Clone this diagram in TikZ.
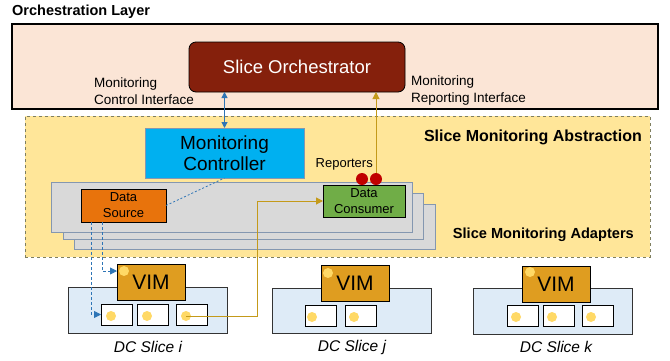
\documentclass[tikz,border=0pt]{standalone}
\usepackage{fontspec}
\setmainfont{Liberation Sans}
\usetikzlibrary{arrows.meta}
\definecolor{orchfill}{HTML}{FBE5D6}
\definecolor{orchred}{HTML}{85200C}
\definecolor{absfill}{HTML}{FFE699}
\definecolor{absline}{HTML}{7F7F5F}
\definecolor{ctrlblue}{HTML}{00B0F0}
\definecolor{adaptfill}{HTML}{D9D9D9}
\definecolor{adaptline}{HTML}{8497B0}
\definecolor{srcorange}{HTML}{E8730C}
\definecolor{consgreen}{HTML}{70AD47}
\definecolor{vimgold}{HTML}{DF9D20}
\definecolor{slicefill}{HTML}{DEEBF7}
\definecolor{vmdot}{HTML}{FFD966}
\definecolor{repred}{HTML}{C00000}
\definecolor{arrblue}{HTML}{2E75B6}
\definecolor{arrgold}{HTML}{C49A1A}
\begin{document}
\begin{tikzpicture}[x=1pt,y=-1pt]
            \tikzstyle{box}=[draw,anchor=north west,inner sep=0,outer sep=0]
            \tikzstyle{adapter}=[box,fill=adaptfill,draw=adaptline,line width=0.9pt]
            \tikzstyle{slice}=[box,fill=slicefill,line width=1pt,draw=black!80]
            \tikzstyle{vim}=[box,fill=vimgold,line width=1pt,minimum width=68,minimum height=36,font=\fontsize{21}{21}\selectfont]
            \tikzstyle{vm}=[box,fill=white,line width=1pt,minimum width=31,minimum height=21]
            \tikzstyle{dot}=[circle,fill=vmdot,inner sep=0,minimum size=10]
            \tikzstyle{reporter}=[circle,fill=repred,inner sep=0,minimum size=12]
            \tikzstyle{small}=[font=\fontsize{13}{16}\selectfont,align=center]
            \tikzstyle{iface}=[font=\fontsize{13.5}{17}\selectfont,align=left,anchor=west,inner sep=0]
            \tikzstyle{title}=[font=\bfseries\fontsize{14.5}{16}\selectfont,inner sep=0]
            \tikzstyle{slicelabel}=[font=\itshape\fontsize{15.5}{16}\selectfont]
            \tikzstyle{blue arrow}=[arrblue,line width=1pt]
            \tikzstyle{gold arrow}=[arrgold,line width=1pt,-{Triangle[length=7pt,width=7pt]}]

            \useasboundingbox (0,0) rectangle (670,360);

            % orchestration layer
            \node(title)[title,anchor=west] at (12,12) {Orchestration Layer};
            \node(layer)[box,fill=orchfill,line width=1.2pt,minimum width=646,minimum height=85] at (12,24) {};
            \node(orch)[box,fill=orchred,rounded corners=7pt,line width=0.8pt,minimum width=216,minimum height=50,
                text=white,font=\fontsize{18.5}{18}\selectfont] at (189,42) {Slice Orchestrator};
            \node(ctrlif)[iface] at (94,91) {Monitoring\\Control Interface};
            \node(repif)[iface] at (411,91) {Monitoring\\Reporting Interface};

            % slice monitoring abstraction
            \node(abs)[box,fill=absfill,draw=absline,dashed,line width=0.6pt,minimum width=625,minimum height=141] at (25,116) {};
            \node(abstitle)[title,font=\bfseries\fontsize{16}{16}\selectfont,anchor=east] at (642,137) {Slice Monitoring Abstraction};
            \node(ctrl)[box,fill=ctrlblue,draw=adaptline,line width=0.8pt,minimum width=159,minimum height=50,
                align=center,font=\fontsize{19}{21}\selectfont] at (145,128) {Monitoring\\Controller};

            % adapters
            \node(ad3)[adapter,minimum width=361,minimum height=45] at (74,204) {};
            \node(ad2)[adapter,minimum width=360,minimum height=46] at (63,193) {};
            \node(ad1)[adapter,minimum width=361,minimum height=50] at (51,182) {};
            \node(adtitle)[title,font=\bfseries\fontsize{14.6}{16}\selectfont,anchor=east] at (634,235) {Slice Monitoring Adapters};
            \node(src)[box,small,fill=srcorange,line width=0.9pt,minimum width=85,minimum height=33] at (81,189) {Data\\Source};
            \node(cons)[box,small,fill=consgreen,line width=0.9pt,minimum width=82,minimum height=32] at (323,185) {Data\\Consumer};
            \node(r1)[reporter] at (362,179) {};
            \node(r2)[reporter] at (376,179) {};
            \node(rep)[small,anchor=east,inner sep=0] at (373,164) {Reporters};

            % DC slice i
            \node(si)[slice,minimum width=159,minimum height=46] at (68,287) {};
            \node(vimi)[vim] at (117,264) {VIM};
            \node[dot] at (124,271) {};
            \node(vmi1)[vm] at (101,304) {};
            \node(vmi2)[vm] at (137,304) {};
            \node(vmi3)[vm] at (176,304) {};
            \node(di1)[dot] at (111,316) {};
            \node(di2)[dot] at (147,316) {};
            \node(di3)[dot] at (186,316) {};
            \node(li)[slicelabel] at (148,347) {DC Slice i};

            % DC slice j
            \node(sj)[slice,minimum width=159,minimum height=45] at (272,288) {};
            \node(vimj)[vim] at (321,265) {VIM};
            \node[dot] at (328,273) {};
            \node(vmj1)[vm] at (305,305) {};
            \node(vmj2)[vm] at (345,305) {};
            \node(dj1)[dot] at (312,317) {};
            \node(dj2)[dot] at (354,317) {};
            \node(lj)[slicelabel] at (352,347) {DC Slice j};

            % DC slice k
            \node(sk)[slice,minimum width=159,minimum height=46] at (473,288) {};
            \node(vimk)[vim] at (522,266) {VIM};
            \node[dot] at (530,272) {};
            \node(vmk1)[vm] at (507,305) {};
            \node(vmk2)[vm] at (543,305) {};
            \node(vmk3)[vm] at (582,305) {};
            \node(dk1)[dot] at (516,317) {};
            \node(dk2)[dot] at (552,317) {};
            \node(dk3)[dot] at (591,317) {};
            \node(lk)[slicelabel] at (556,347) {DC Slice k};

            % connectors
            \draw[blue arrow,{Triangle[length=6pt,width=6pt]}-{Triangle[length=6pt,width=6pt]}] (ctrl.north) -- (ctrl.north |- orch.south);
            \draw[gold arrow] (r2.north) -- (r2.north |- orch.south);
            \draw[blue arrow,dashed,line width=0.8pt,dash pattern=on 2pt off 2pt] (src.east) -- (ctrl.south);
            \draw[blue arrow,dashed,line width=0.8pt,dash pattern=on 3pt off 2pt,-{Triangle[length=7pt,width=7pt]}]
                ([xshift=21pt]src.south west) |- ([yshift=-7pt]vimi.north west);
            \draw[blue arrow,dashed,line width=0.8pt,dash pattern=on 3pt off 2pt,-{Triangle[length=7pt,width=7pt]}]
                ([xshift=10pt]src.south west) |- (vmi1.west);
            \draw[gold arrow] (di3.center) -- ++(71,0) |- (cons.west);
        \end{tikzpicture}
\end{document}
